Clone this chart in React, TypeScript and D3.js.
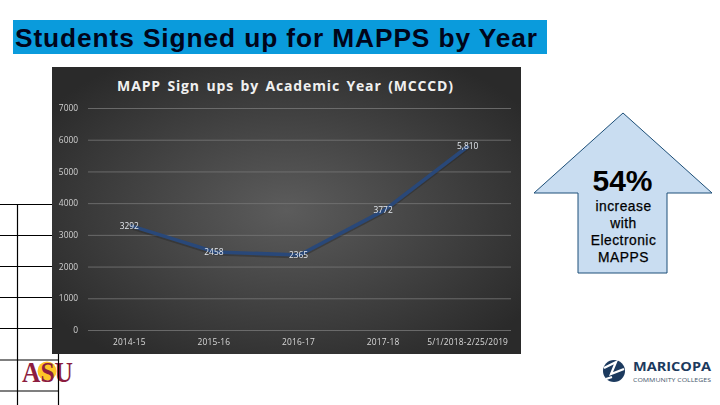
import React, { useEffect, useRef } from 'react';
import * as d3 from 'd3';

const years = ['2014-15', '2015-16', '2016-17', '2017-18', '5/1/2018-2/25/2019'];
const signUps = [3292, 2458, 2365, 3772, 5810];
const pointLabels = ['3292', '2458', '2365', '3772', '5,810'];
const yTicks = [0, 1000, 2000, 3000, 4000, 5000, 6000, 7000];
const tableRows = [204.5, 235.5, 266.5, 297.5, 328.5, 360, 391];
const calloutLines = ['increase', 'with', 'Electronic', 'MAPPS'];

export default function App() {
  const svgRef = useRef<SVGSVGElement | null>(null);

  useEffect(() => {
    if (!svgRef.current) return;
    const svg = d3.select(svgRef.current);
    svg.selectAll('*').remove();

    const defs = svg.append('defs');
    const grad = defs.append('radialGradient').attr('id', 'panelBg').attr('cx', '50%').attr('cy', '50%').attr('r', '62%');
    grad.append('stop').attr('offset', '0%').attr('stop-color', '#5c5c5c');
    grad.append('stop').attr('offset', '100%').attr('stop-color', '#2a2a2a');
    const soft = defs.append('filter').attr('id', 'soft');
    soft.append('feGaussianBlur').attr('stdDeviation', 0.35);

    // ASU logo sits under the table lines
    svg.append('circle').attr('cx', 47).attr('cy', 371).attr('r', 9.5).attr('fill', '#ffc627');
    svg.append('text').attr('x', 22).attr('y', 382)
      .attr('font-family', 'Liberation Serif').attr('font-weight', 'bold').attr('font-size', 30)
      .attr('textLength', 51).attr('lengthAdjust', 'spacingAndGlyphs')
      .attr('fill', '#8c1d40').text('ASU');

    // leftover table behind the chart
    const table = svg.append('g').attr('stroke', '#000').attr('stroke-width', 1.2);
    table.selectAll('line.row').data(tableRows).join('line')
      .attr('x1', 0).attr('x2', d => (d > 354 ? 58 : 52))
      .attr('y1', d => d).attr('y2', d => d);
    table.append('line').attr('x1', 17.5).attr('x2', 17.5).attr('y1', 204).attr('y2', 405);
    table.append('line').attr('x1', 58.5).attr('x2', 58.5).attr('y1', 354).attr('y2', 405);

    // title
    svg.append('rect').attr('x', 13).attr('y', 20).attr('width', 534).attr('height', 34).attr('fill', '#0a9bdc');
    svg.append('text').attr('x', 15).attr('y', 46.5)
      .attr('font-family', 'Liberation Sans').attr('font-weight', 'bold').attr('font-size', 26.3)
      .attr('textLength', 522).attr('lengthAdjust', 'spacing')
      .attr('fill', '#01051a').text('Students Signed up for MAPPS by Year');

    // chart panel
    const panel = { left: 52, top: 67, width: 469, height: 287 };
    svg.append('rect').attr('x', panel.left).attr('y', panel.top)
      .attr('width', panel.width).attr('height', panel.height).attr('fill', 'url(#panelBg)');

    svg.append('text').attr('x', 285.5).attr('y', 91)
      .attr('text-anchor', 'middle').attr('font-family', 'Open Sans').attr('font-weight', 'bold')
      .attr('font-size', 14).attr('letter-spacing', 0.85).attr('word-spacing', 2).attr('fill', '#f0f0f0')
      .text('MAPP Sign ups by Academic Year (MCCCD)');

    const x = d3.scaleBand().domain(years).range([88, 511]);
    const y = d3.scaleLinear().domain([0, 7000]).range([330, 108]);

    const yAxis = svg.append('g').attr('transform', 'translate(88,0)')
      .call(d3.axisLeft(y).tickValues(yTicks).tickSize(0).tickPadding(10).tickFormat(d => String(d)));
    yAxis.select('.domain').remove();
    yAxis.selectAll('text').attr('font-family', 'Open Sans').attr('font-size', 8.4).attr('fill', '#d0d0d0').attr('filter', 'url(#soft)');

    svg.append('g').selectAll('line').data(yTicks).join('line')
      .attr('x1', 88).attr('x2', 511)
      .attr('y1', d => y(d) + 0.5).attr('y2', d => y(d) + 0.5)
      .attr('stroke', '#777').attr('stroke-width', 0.8);

    const xAxis = svg.append('g').attr('transform', 'translate(-1,330)')
      .call(d3.axisBottom(x).tickSize(0).tickPadding(9));
    xAxis.select('.domain').remove();
    xAxis.selectAll('text').attr('font-family', 'Open Sans').attr('font-size', 8.4).attr('letter-spacing', 0.2).attr('fill', '#d8d8d8').attr('filter', 'url(#soft)');

    const cx = (i: number) => x(years[i])! + x.bandwidth() / 2;
    const line = d3.line<number>().x((_, i) => cx(i)).y(d => y(d));

    svg.append('path').datum(signUps).attr('fill', 'none').attr('stroke', '#222').attr('stroke-opacity', 0.4)
      .attr('stroke-width', 4).attr('transform', 'translate(0,1.5)').attr('d', line);
    svg.append('path').datum(signUps).attr('fill', 'none').attr('stroke', '#294879')
      .attr('stroke-width', 3.6).attr('d', line);

    svg.append('g').selectAll('text').data(pointLabels).join('text')
      .attr('x', (_, i) => cx(i) - 1)
      .attr('y', (_, i) => y(signUps[i]) + 3)
      .attr('text-anchor', 'middle').attr('font-family', 'Open Sans').attr('font-size', 8.4)
      .attr('fill', '#e4e8ee').attr('filter', 'url(#soft)')
      .text(d => d);

    // callout arrow
    const arrow = d3.path();
    arrow.moveTo(623, 113);
    arrow.lineTo(712, 193);
    arrow.lineTo(667, 193);
    arrow.lineTo(667, 273);
    arrow.lineTo(578, 273);
    arrow.lineTo(578, 193);
    arrow.lineTo(534, 193);
    arrow.closePath();
    svg.append('path').attr('d', arrow.toString()).attr('fill', '#c9ddf1').attr('stroke', '#1d4f78').attr('stroke-width', 1);

    svg.append('text').attr('x', 622.5).attr('y', 191).attr('text-anchor', 'middle')
      .attr('font-family', 'Liberation Sans').attr('font-weight', 'bold').attr('font-size', 30).attr('fill', '#000').text('54%');
    svg.append('g').selectAll('text').data(calloutLines).join('text')
      .attr('x', 623.5).attr('y', (_, i) => 211 + i * 17).attr('text-anchor', 'middle')
      .attr('font-family', 'Liberation Sans').attr('font-size', 13.8).attr('letter-spacing', 0.5)
      .attr('stroke', '#000').attr('stroke-width', 0.25).attr('fill', '#000').text(d => d);

    // Maricopa logo
    svg.append('circle').attr('cx', 614).attr('cy', 371).attr('r', 11).attr('fill', '#1c3a5e');
    svg.append('path').attr('d', 'M604 368 L616 362 L611 374 L624 369 M606 379 L612 377')
      .attr('stroke', '#fff').attr('stroke-width', 2.2).attr('fill', 'none');
    svg.append('text').attr('x', 633).attr('y', 371)
      .attr('font-family', 'Open Sans').attr('font-weight', 'bold').attr('font-size', 12.5)
      .attr('textLength', 78).attr('lengthAdjust', 'spacingAndGlyphs').attr('fill', '#1c3a5e').text('MARICOPA');
    svg.append('text').attr('x', 633).attr('y', 381.5)
      .attr('font-family', 'Open Sans').attr('font-size', 5.6)
      .attr('textLength', 78).attr('lengthAdjust', 'spacingAndGlyphs').attr('fill', '#4a5a6e').text('COMMUNITY COLLEGES');
  }, []);

  return (
    <svg
      ref={svgRef}
      width={720}
      height={405}
      style={{ position: 'absolute', left: 0, top: 0, background: '#fff' }}
    />
  );
}
